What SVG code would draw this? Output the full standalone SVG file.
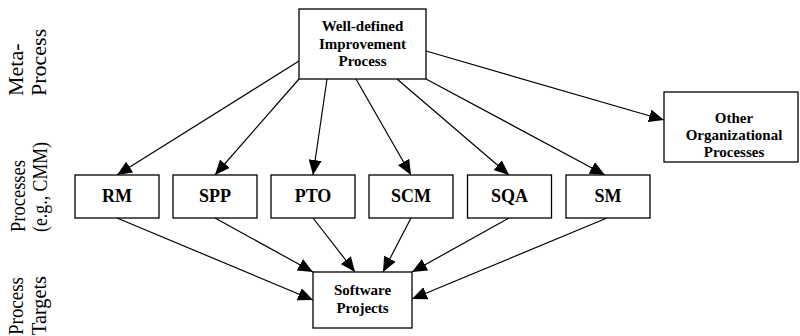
<svg xmlns="http://www.w3.org/2000/svg" width="800" height="336" viewBox="0 0 800 336">
  <style>
    .box { fill: #fff; stroke: #000; stroke-width: 1.3; }
    .lbl { font-family: "Liberation Serif", "Times New Roman", serif; font-weight: bold; fill: #000; text-anchor: middle; }
    .side { font-family: "Liberation Serif", "Times New Roman", serif; fill: #000; text-anchor: start; }
    .edge { stroke: #000; stroke-width: 1.2; fill: none; marker-end: url(#arr); }
  </style>
  <defs>
    <marker id="arr" markerUnits="userSpaceOnUse" markerWidth="15" markerHeight="13" viewBox="0 0 15 13" refX="15" refY="6.5" orient="auto">
      <path d="M0,0 L15,6.5 L0,13 Z" fill="#000"/>
    </marker>
  </defs>
  <rect width="800" height="336" fill="#fff"/>

  <g id="side-labels">
    <text class="side" font-size="22" transform="translate(23,96) rotate(-90)">Meta-</text>
    <text class="side" font-size="22" transform="translate(46,96) rotate(-90)">Process</text>
    <text class="side" font-size="20" textLength="72" lengthAdjust="spacingAndGlyphs" transform="translate(25,232) rotate(-90)">Processes</text>
    <text class="side" font-size="20" textLength="90" lengthAdjust="spacingAndGlyphs" transform="translate(47,232) rotate(-90)">(e.g., CMM)</text>
    <text class="side" font-size="21" textLength="58" lengthAdjust="spacingAndGlyphs" transform="translate(23,335) rotate(-90)">Process</text>
    <text class="side" font-size="21" textLength="59" lengthAdjust="spacingAndGlyphs" transform="translate(46,335) rotate(-90)">Targets</text>
  </g>

  <g id="connectors">
    <line class="edge" x1="299" y1="61" x2="117" y2="175"/>
    <line class="edge" x1="299" y1="79" x2="215" y2="175"/>
    <line class="edge" x1="327" y1="79" x2="313" y2="175"/>
    <line class="edge" x1="356" y1="79" x2="411" y2="175"/>
    <line class="edge" x1="397" y1="79" x2="509" y2="175"/>
    <line class="edge" x1="426" y1="79" x2="605" y2="175"/>
    <line class="edge" x1="426" y1="51" x2="664" y2="120"/>
    <line class="edge" x1="117" y1="218" x2="313" y2="300"/>
    <line class="edge" x1="215" y1="218" x2="313" y2="272"/>
    <line class="edge" x1="313" y1="218" x2="355" y2="272"/>
    <line class="edge" x1="411" y1="218" x2="383" y2="272"/>
    <line class="edge" x1="509" y1="218" x2="412" y2="272"/>
    <line class="edge" x1="607" y1="218" x2="412" y2="299"/>
  </g>

  <g id="improvement">
    <rect class="box" x="299" y="9" width="127" height="70"/>
    <text class="lbl" font-size="15" x="362.5" y="31">Well-defined</text>
    <text class="lbl" font-size="15" x="362.5" y="48.5">Improvement</text>
    <text class="lbl" font-size="15" x="362.5" y="66">Process</text>
  </g>

  <g id="other">
    <rect class="box" x="664" y="92" width="134" height="70"/>
    <text class="lbl" font-size="15" x="734" y="122.5">Other</text>
    <text class="lbl" font-size="15" x="734" y="140">Organizational</text>
    <text class="lbl" font-size="15" x="734" y="157">Processes</text>
  </g>

  <g id="rm">
    <rect class="box" x="75" y="175" width="84" height="43"/>
    <text class="lbl" font-size="18" x="117" y="202">RM</text>
  </g>
  <g id="spp">
    <rect class="box" x="173" y="175" width="84" height="43"/>
    <text class="lbl" font-size="18" x="215" y="202">SPP</text>
  </g>
  <g id="pto">
    <rect class="box" x="271" y="175" width="84" height="43"/>
    <text class="lbl" font-size="18" x="313" y="202">PTO</text>
  </g>
  <g id="scm">
    <rect class="box" x="369" y="175" width="84" height="43"/>
    <text class="lbl" font-size="18" x="411" y="202">SCM</text>
  </g>
  <g id="sqa">
    <rect class="box" x="467.5" y="175" width="84" height="43"/>
    <text class="lbl" font-size="18" x="509.5" y="202">SQA</text>
  </g>
  <g id="sm">
    <rect class="box" x="566" y="175" width="84" height="43"/>
    <text class="lbl" font-size="18" x="608" y="202">SM</text>
  </g>

  <g id="software">
    <rect class="box" x="313" y="272" width="99" height="56"/>
    <text class="lbl" font-size="15" x="362.5" y="295">Software</text>
    <text class="lbl" font-size="15" x="362.5" y="312.5">Projects</text>
  </g>
</svg>
